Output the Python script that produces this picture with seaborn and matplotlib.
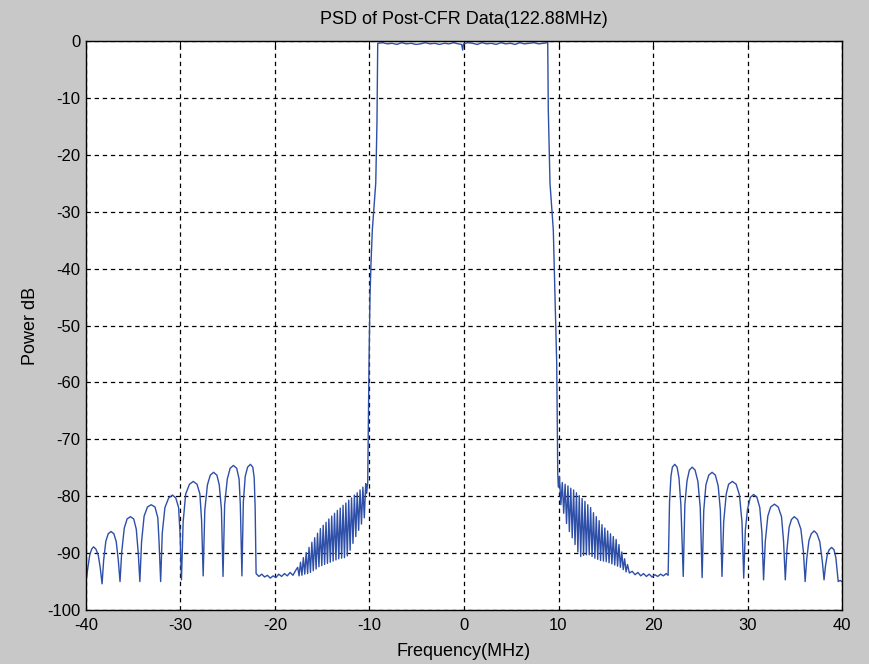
import numpy as np
import pandas as pd
import seaborn as sns
import matplotlib
matplotlib.use("Agg")
import matplotlib.pyplot as plt

# Values (frequency in MHz, power in dB)

# left side-lobes (-40 .. -22 MHz)
left_lobes_f = [-40.0, -39.8, -39.6, -39.4, -39.2, -38.95, -38.7, -38.5, -38.3,
                -38.13, -37.9, -37.65, -37.35, -37.05, -36.8, -36.58, -36.4,
                -36.22, -35.95, -35.65, -35.3, -34.95, -34.68, -34.47, -34.3,
                -34.12, -33.85, -33.5, -33.1, -32.7, -32.4, -32.27, -32.1,
                -31.93, -31.65, -31.25, -30.85, -30.5, -30.2, -30.05, -29.9,
                -29.72, -29.45, -29.05, -28.65, -28.25, -27.95, -27.77, -27.6,
                -27.43, -27.15, -26.85, -26.5, -26.15, -25.9, -25.67, -25.5,
                -25.33, -25.05, -24.75, -24.4, -24.05, -23.8, -23.67, -23.5,
                -23.35, -23.15, -22.9, -22.6, -22.35, -22.2, -22.1, -22.0]
left_lobes_db = [-95.1, -92.5, -90.3, -89.3, -88.9, -89.3, -90.4, -92.5, -95.4,
                 -91.2, -87.9, -86.6, -86.2, -86.6, -88.0, -91.3, -95.0,
                 -89.8, -85.6, -84.0, -83.6, -84.0, -85.8, -90.0, -95.0,
                 -88.0, -83.5, -81.9, -81.5, -81.9, -83.8, -88.0, -95.0,
                 -86.5, -82.0, -80.3, -79.8, -80.3, -82.0, -86.5, -94.7,
                 -84.5, -79.6, -77.9, -77.4, -77.9, -79.6, -84.2, -94.0,
                 -82.5, -78.0, -76.3, -75.8, -76.3, -78.0, -82.3, -94.1,
                 -81.5, -77.0, -75.1, -74.6, -75.1, -77.0, -81.5, -94.0,
                 -81.0, -76.5, -74.9, -74.4, -74.9, -76.8, -82.0, -93.6]

# left noise floor and filter skirt ripple (-22 .. -10.2 MHz)
left_skirt_f = [-21.7, -21.4, -21.1, -20.8, -20.5, -20.2, -19.9, -19.6, -19.3,
                -19.0, -18.7, -18.4, -18.1, -17.8,
                -17.6, -17.45, -17.3, -17.15, -17.0, -16.85, -16.7, -16.55,
                -16.4, -16.25, -16.1, -15.95, -15.8, -15.65, -15.5, -15.35,
                -15.2, -15.05, -14.9, -14.75, -14.6, -14.45, -14.3, -14.15,
                -14.0, -13.85, -13.7, -13.55, -13.4, -13.25, -13.1, -12.95,
                -12.8, -12.65, -12.5, -12.35, -12.2, -12.05, -11.9, -11.75,
                -11.6, -11.45, -11.3, -11.15, -11.0, -10.85, -10.7, -10.55,
                -10.4, -10.3]
left_skirt_db = [-94.1, -93.7, -94.2, -93.9, -94.4, -94.0, -94.3, -93.7, -94.1,
                 -93.6, -94.0, -93.4, -93.9, -93.0,
                 -92.5, -94.0, -91.6, -93.9, -90.8, -93.7, -89.9, -93.6,
                 -89.0, -93.4, -88.1, -93.1, -87.3, -92.8, -86.5, -92.4,
                 -85.7, -92.2, -85.1, -92.0, -84.6, -91.8, -84.0, -91.6,
                 -83.5, -91.4, -83.0, -91.2, -82.5, -91.0, -82.1, -90.9,
                 -81.6, -90.8, -81.2, -90.5, -80.7, -89.5, -80.3, -88.3,
                 -79.8, -87.1, -79.4, -86.0, -78.9, -84.9, -78.4, -83.8,
                 -77.8, -79.5]

# occupied band with its two edges (-10.2 .. 10 MHz)
band_f = [-10.22, -10.19, -10.13, -10.05, -9.95, -9.84, -9.70, -9.34, -9.21,
          -9.13, -8.6, -8.1, -7.6, -7.1, -6.6, -6.1, -5.6, -5.1, -4.6, -4.1,
          -3.6, -3.1, -2.6, -2.1, -1.6, -1.1, -0.6, -0.25, -0.14, -0.05, 0.4,
          0.9, 1.4, 1.9, 2.4, 2.9, 3.4, 3.9, 4.4, 4.9, 5.4, 5.9, 6.4, 6.9,
          7.4, 7.9, 8.4, 8.86,
          8.92, 9.10, 9.45, 9.63, 9.81, 9.92, 9.98]
band_db = [-78.0, -77.7, -68.4, -56.6, -45.0, -39.0, -33.2, -25.0, -14.4,
           -0.4, -0.3, -0.5, -0.4, -0.6, -0.3, -0.5, -0.4, -0.6, -0.5, -0.3,
           -0.5, -0.4, -0.6, -0.4, -0.5, -0.3, -0.5, -0.6, -1.6, -0.5, -0.3,
           -0.4, -0.6, -0.3, -0.5, -0.4, -0.6, -0.3, -0.5, -0.4, -0.6, -0.3,
           -0.5, -0.4, -0.3, -0.5, -0.4, -0.3,
           -12.1, -25.0, -33.2, -45.0, -56.6, -75.9, -78.4]

# right filter skirt ripple and noise floor (10 .. 21.6 MHz)
right_skirt_f = [10.1, 10.25, 10.4, 10.55, 10.7, 10.85, 11.0, 11.15, 11.3,
                 11.45, 11.6, 11.75, 11.9, 12.05, 12.2, 12.35, 12.5, 12.65,
                 12.8, 12.95, 13.1, 13.25, 13.4, 13.55, 13.7, 13.85, 14.0,
                 14.15, 14.3, 14.45, 14.6, 14.75, 14.9, 15.05, 15.2, 15.35,
                 15.5, 15.65, 15.8, 15.95, 16.1, 16.25, 16.4, 16.55, 16.7,
                 16.85, 17.0, 17.15, 17.3,
                 17.5, 17.8, 18.1, 18.4, 18.7, 19.0, 19.3, 19.6, 19.9, 20.2,
                 20.5, 20.8, 21.1, 21.4, 21.6]
right_skirt_db = [-76.5, -81.5, -77.6, -83.0, -77.9, -84.8, -78.2, -86.2, -78.6,
                  -87.3, -78.9, -88.5, -79.4, -89.8, -79.9, -90.6, -80.4, -90.4,
                  -80.9, -90.3, -81.5, -90.3, -82.0, -90.6, -82.9, -90.9, -83.6,
                  -91.1, -84.3, -91.3, -85.0, -91.4, -85.6, -91.5, -86.1, -91.7,
                  -86.6, -91.9, -87.1, -92.1, -87.6, -92.3, -88.5, -92.5, -89.8,
                  -92.9, -91.0, -93.3, -92.0,
                  -93.5, -93.2, -93.8, -93.4, -94.0, -93.6, -94.1, -93.7, -94.2,
                  -93.8, -94.1, -93.7, -94.0, -93.6, -93.9]

# right side-lobes (21.6 .. 40 MHz)
right_lobes_f = [21.75, 21.9, 22.05, 22.3, 22.55, 22.75, 22.95, 23.2,
                 23.37, 23.6, 23.85, 24.15, 24.45, 24.75, 25.0, 25.2,
                 25.37, 25.6, 25.9, 26.25, 26.6, 26.9, 27.13, 27.3,
                 27.48, 27.75, 28.0, 28.4, 28.8, 29.15, 29.42, 29.6,
                 29.77, 30.0, 30.3, 30.65, 31.0, 31.3, 31.53, 31.7,
                 31.88, 32.15, 32.45, 32.85, 33.25, 33.6, 33.82, 34.0,
                 34.17, 34.4, 34.65, 34.95, 35.3, 35.65, 35.92, 36.1,
                 36.27, 36.5, 36.75, 37.05, 37.35, 37.65, 37.92, 38.1,
                 38.25, 38.45, 38.65, 38.9, 39.15, 39.35, 39.6, 39.8, 40.0]
right_lobes_db = [-81.0, -76.5, -74.9, -74.4, -74.9, -76.8, -81.5, -94.1,
                  -81.5, -77.3, -75.4, -74.9, -75.4, -77.4, -82.0, -94.3,
                  -82.5, -78.0, -76.3, -75.8, -76.3, -78.2, -82.5, -94.1,
                  -84.5, -79.6, -77.9, -77.4, -77.9, -79.8, -84.6, -94.4,
                  -86.0, -82.3, -80.2, -79.7, -80.2, -82.0, -86.5, -94.7,
                  -88.0, -83.5, -81.9, -81.4, -81.9, -83.6, -88.0, -94.7,
                  -89.5, -85.5, -84.1, -83.6, -84.1, -85.8, -89.8, -95.0,
                  -91.0, -87.8, -86.6, -86.1, -86.6, -88.0, -91.5, -94.7,
                  -92.3, -90.2, -89.4, -89.0, -89.4, -90.8, -95.0, -94.8, -95.0]

x_ticks = [-40, -30, -20, -10, 0, 10, 20, 30, 40]
y_ticks = [0, -10, -20, -30, -40, -50, -60, -70, -80, -90, -100]

df = pd.DataFrame({
    "freq": left_lobes_f + left_skirt_f + band_f + right_skirt_f + right_lobes_f,
    "power": left_lobes_db + left_skirt_db + band_db + right_skirt_db + right_lobes_db,
})

sns.set_style("white")
plt.rcParams["font.family"] = ["Liberation Sans", "DejaVu Sans"]
plt.rcParams["text.color"] = "black"
plt.rcParams["axes.labelcolor"] = "black"
plt.rcParams["axes.unicode_minus"] = False

fig = plt.figure(figsize=(8.7, 6.64), dpi=100, facecolor="#C8C8C8")
ax = fig.add_axes([86 / 870, 54 / 664, 756 / 870, 569 / 664])
ax.set_facecolor("white")

sns.lineplot(data=df, x="freq", y="power", sort=False, estimator=None,
             color="#2E4FA8", linewidth=1.0, ax=ax)

ax.set_xlim(-40, 40)
ax.set_ylim(-100, 0)
ax.set_xticks(x_ticks)
ax.set_yticks(y_ticks)
ax.grid(True, color="black", linestyle=(0, (3.5, 3)), linewidth=0.9)
ax.set_axisbelow(True)
for s in ax.spines.values():
    s.set_color("black")
    s.set_linewidth(1.0)
ax.tick_params(direction="in", length=5, width=0.8, labelsize=12,
               colors="black", top=True, right=True)
ax.tick_params(axis="x", pad=6)
ax.tick_params(axis="y", pad=4)

ax.set_title("PSD of Post-CFR Data(122.88MHz)", fontsize=13, pad=12, color="black")
ax.set_xlabel("Frequency(MHz)", fontsize=13, labelpad=7)
ax.set_ylabel("Power dB", fontsize=13, labelpad=6)

fig.savefig("out.png", dpi=100, facecolor=fig.get_facecolor())
